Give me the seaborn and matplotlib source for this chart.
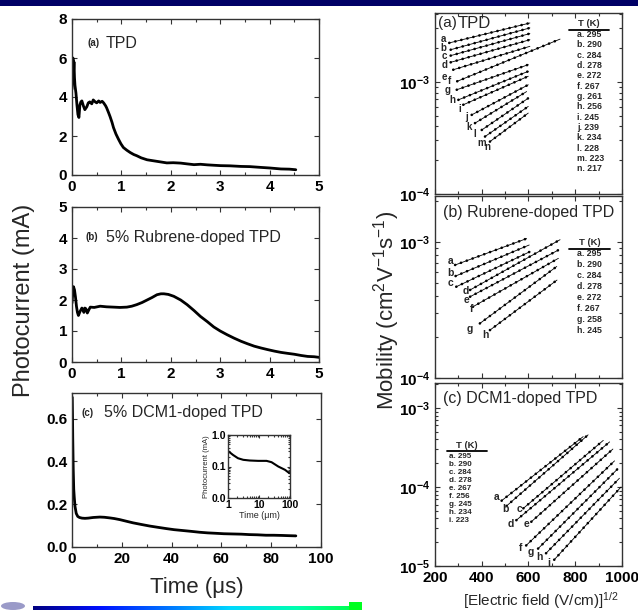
import numpy as np
import pandas as pd
import matplotlib
matplotlib.use('Agg')
import matplotlib.pyplot as plt
import seaborn as sns
from matplotlib.patches import Rectangle, Ellipse
from matplotlib.colors import LinearSegmentedColormap
from matplotlib.ticker import MultipleLocator, FixedLocator, FixedFormatter, FormatStrFormatter

sns.set_style('ticks')
plt.rcParams['font.family'] = ['Liberation Sans', 'DejaVu Sans']
plt.rcParams['mathtext.default'] = 'regular'

# ---------------- data: photocurrent transients ----------------
tpd_t = [0.0, 0.01, 0.02, 0.03, 0.04, 0.05, 0.06, 0.08, 0.10, 0.12, 0.14, 0.16, 0.18, 0.20, 0.23, 0.26,
         0.30, 0.33, 0.36, 0.40, 0.43, 0.47, 0.50, 0.54, 0.57, 0.61, 0.64, 0.68, 0.70, 0.74, 0.77, 0.81,
         0.84, 0.89, 0.94, 0.99, 1.04, 1.11, 1.18, 1.25, 1.31, 1.40, 1.52, 1.62, 1.72, 1.82, 1.92, 2.05,
         2.20, 2.33, 2.47, 2.60, 2.74, 2.87, 3.01, 3.20, 3.42, 3.60, 3.82, 4.00, 4.23, 4.40, 4.53]
tpd_i = [4.4, 5.6, 6.0, 5.2, 5.8, 5.0, 4.6, 4.2, 3.6, 3.1, 2.95, 3.6, 3.75, 3.8, 3.55, 3.35,
         3.5, 3.7, 3.75, 3.65, 3.85, 3.75, 3.7, 3.8, 3.72, 3.78, 3.7, 3.55, 3.45, 3.2, 3.0, 2.7,
         2.43, 2.1, 1.84, 1.6, 1.41, 1.27, 1.15, 1.05, 0.99, 0.88, 0.78, 0.74, 0.7, 0.66, 0.62, 0.63,
         0.61, 0.57, 0.53, 0.55, 0.52, 0.50, 0.48, 0.47, 0.44, 0.43, 0.39, 0.36, 0.31, 0.30, 0.27]

rub_t = [0.0, 0.02, 0.03, 0.05, 0.07, 0.09, 0.11, 0.13, 0.16, 0.20, 0.22, 0.24, 0.26, 0.28, 0.31, 0.34,
         0.37, 0.45, 0.57, 0.70, 0.84, 0.97, 1.11, 1.21, 1.31, 1.42, 1.52, 1.62, 1.72, 1.80, 1.86, 1.95,
         2.06, 2.20, 2.33, 2.47, 2.60, 2.74, 2.87, 3.00, 3.14, 3.28, 3.42, 3.55, 3.69, 3.83, 3.96, 4.10,
         4.23, 4.36, 4.50, 4.64, 4.77, 4.90, 5.0]
rub_i = [1.9, 2.3, 2.43, 2.33, 2.1, 1.8, 1.6, 1.5, 1.62, 1.74, 1.7, 1.6, 1.74, 1.72, 1.58, 1.68,
         1.77, 1.76, 1.8, 1.78, 1.77, 1.76, 1.77, 1.8, 1.85, 1.92, 2.0, 2.08, 2.17, 2.2, 2.2, 2.18,
         2.12, 2.0, 1.85, 1.66, 1.47, 1.3, 1.13, 1.0, 0.88, 0.77, 0.67, 0.59, 0.51, 0.45, 0.4, 0.35,
         0.31, 0.28, 0.25, 0.21, 0.18, 0.17, 0.15]

dcm_t = [0.1, 0.2, 0.3, 0.5, 0.7, 0.9, 1.2, 1.7, 2.3, 3.0, 4.0, 5.2, 6.5, 8.5, 11.2, 13.0, 15.2, 17.0,
         19.2, 22.0, 24.5, 28.0, 31.2, 34.5, 37.9, 41.0, 44.5, 48.0, 51.2, 54.5, 57.9, 61.0, 64.5, 68.0,
         71.2, 74.5, 77.9, 81.0, 84.5, 87.0, 89.9]
dcm_i = [0.70, 0.62, 0.51, 0.36, 0.27, 0.234, 0.19, 0.157, 0.143, 0.138, 0.135, 0.134, 0.135, 0.138,
         0.14, 0.139, 0.136, 0.133, 0.128, 0.12, 0.113, 0.105, 0.098, 0.092, 0.086, 0.081, 0.077, 0.073,
         0.069, 0.066, 0.064, 0.062, 0.061, 0.06, 0.058, 0.057, 0.055, 0.055, 0.054, 0.053, 0.052]

ins_t = [1.05, 1.45, 2.1, 3.1, 5.0, 9.4, 17.5, 25.4, 41.8, 68.9, 95]
ins_i = [0.30, 0.233, 0.183, 0.163, 0.155, 0.151, 0.151, 0.137, 0.10, 0.0785, 0.0616]

# ---------------- data: Poole-Frenkel mobility lines ----------------
pa_letters = list('abcdefghijklmn')
pa_temps = [295, 290, 284, 278, 272, 267, 261, 256, 245, 239, 234, 228, 223, 217]
pa_f0 = [261, 267, 267, 267, 278, 295, 293, 300, 321, 357, 371, 400, 414, 435]
pa_f1 = [606, 606, 606, 606, 606, 735, 599, 599, 599, 599, 592, 599, 599, 599]
pa_mu0 = [2.22e-3, 1.93e-3, 1.71e-3, 1.49e-3, 1.28e-3, 1.01e-3, 8.49e-4, 6.90e-4, 6.24e-4, 5.07e-4,
          4.28e-4, 3.72e-4, 3.25e-4, 2.93e-4]
pa_mu1 = [3.34e-3, 3.02e-3, 2.69e-3, 2.37e-3, 2.07e-3, 2.40e-3, 1.42e-3, 1.24e-3, 1.12e-3, 9.40e-4,
          8.18e-4, 7.14e-4, 6.03e-4, 5.26e-4]
pa_lab_f = [236, 236, 239, 239, 239, 264, 254, 276, 308, 336, 345, 369, 398, 426]
pa_lab_mu = [2.42e-3, 1.98e-3, 1.68e-3, 1.42e-3, 1.11e-3, 1.02e-3, 8.49e-4, 6.90e-4, 5.70e-4,
             4.90e-4, 3.94e-4, 3.45e-4, 2.87e-4, 2.60e-4]

pb_letters = list('abcdefgh')
pb_temps = [295, 290, 284, 278, 272, 267, 258, 245]
pb_f0 = [286, 288, 291, 350, 350, 362, 392, 435]
pb_f1 = [592, 603, 606, 735, 728, 728, 721, 722]
pb_mu0 = [6.78e-4, 5.62e-4, 4.69e-4, 4.44e-4, 3.96e-4, 3.34e-4, 2.52e-4, 2.25e-4]
pb_mu1 = [1.06e-3, 9.51e-4, 8.49e-4, 1.04e-3, 8.73e-4, 7.59e-4, 6.61e-4, 5.25e-4]
pb_lab_f = [267, 267, 267, 333, 333, 357, 350, 414]
pb_lab_mu = [7.29e-4, 5.94e-4, 4.97e-4, 4.37e-4, 3.75e-4, 3.21e-4, 2.28e-4, 2.07e-4]

pc_letters = list('abcdefghi')
pc_temps = [295, 290, 284, 278, 267, 256, 245, 234, 223]
pc_f0 = [485, 506, 578, 548, 612, 590, 641, 675, 710]
pc_f1 = [834, 855, 920, 947, 961, 968, 982, 989, 996]
pc_mu0 = [6.71e-5, 5.75e-5, 5.37e-5, 3.80e-5, 3.63e-5, 1.82e-5, 1.66e-5, 1.45e-5, 1.20e-5]
pc_mu1 = [4.34e-4, 4.57e-4, 3.89e-4, 3.72e-4, 3.02e-4, 2.14e-4, 1.70e-4, 1.29e-4, 1.00e-4]
pc_lab_f = [462, 500, 560, 524, 590, 568, 612, 648, 688]
pc_lab_mu = [7.5e-5, 5.2e-5, 5.2e-5, 3.4e-5, 3.4e-5, 1.7e-5, 1.5e-5, 1.3e-5, 1.1e-5]

# ---------------- figure ----------------
W, H = 638, 610
fig = plt.figure(figsize=(W / 100, H / 100), dpi=100)
fig.patch.set_facecolor('white')


def fax(l, t, r, b):
    return fig.add_axes([l / W, 1 - b / H, (r - l) / W, (b - t) / H])


def ftext(x, y, s, **kw):
    fig.text(x / W, 1 - y / H, s, **kw)


def style_axes(ax, size=11, color='#333333'):
    for sp in ax.spines.values():
        sp.set_color(color)
        sp.set_linewidth(1.0)
    ax.tick_params(which='both', direction='in', top=True, right=True, width=0.8, colors='#333333',
                   labelcolor='black', labelsize=size)
    ax.tick_params(which='major', length=3.5)
    ax.tick_params(which='minor', length=2)
    for lab in ax.get_xticklabels() + ax.get_yticklabels():
        lab.set_fontweight('bold')
    ax.set_xlabel('')
    ax.set_ylabel('')


# ---- left panels ----
axa = fax(72, 19, 319, 175)
sns.lineplot(x=tpd_t, y=tpd_i, ax=axa, color='black', lw=2.0, estimator=None, sort=False)
axa.set_xlim(0, 5)
axa.set_ylim(0, 8)
axa.xaxis.set_major_locator(MultipleLocator(1))
axa.xaxis.set_minor_locator(MultipleLocator(0.5))
axa.yaxis.set_major_locator(MultipleLocator(2))
style_axes(axa)
ftext(87, 43, '(a)', fontsize=7, fontweight='bold', va='center')
ftext(106, 43, 'TPD', fontsize=11.5, va='center')

axb = fax(72, 207, 319, 362)
sns.lineplot(x=rub_t, y=rub_i, ax=axb, color='black', lw=2.0, estimator=None, sort=False)
axb.set_xlim(0, 5)
axb.set_ylim(0, 5)
axb.xaxis.set_major_locator(MultipleLocator(1))
axb.xaxis.set_minor_locator(MultipleLocator(0.5))
axb.yaxis.set_major_locator(MultipleLocator(1))
style_axes(axb)
ftext(85, 237, '(b)', fontsize=7, fontweight='bold', va='center')
ftext(106, 237, '5% Rubrene-doped TPD', fontsize=11.5, va='center')

axc = fax(72, 393, 321, 547)
sns.lineplot(x=dcm_t, y=dcm_i, ax=axc, color='black', lw=2.0, estimator=None, sort=False)
axc.set_xlim(0, 100)
axc.set_ylim(0, 0.72)
axc.xaxis.set_major_locator(MultipleLocator(20))
axc.xaxis.set_minor_locator(MultipleLocator(10))
axc.yaxis.set_major_locator(MultipleLocator(0.2))
axc.yaxis.set_major_formatter(FormatStrFormatter('%.1f'))
style_axes(axc)
ftext(82, 413, '(c)', fontsize=7, fontweight='bold', va='center')
ftext(104, 413, '5% DCM1-doped TPD', fontsize=11.5, va='center')

axi = fax(228, 435, 290, 498)
axi.set_xscale('log')
axi.set_yscale('log')
sns.lineplot(x=ins_t, y=ins_i, ax=axi, color='black', lw=1.5, estimator=None, sort=False)
axi.set_xlim(1, 100)
axi.set_ylim(0.01, 1)
axi.xaxis.set_major_locator(FixedLocator([1, 10, 100]))
axi.xaxis.set_major_formatter(FixedFormatter(['1', '10', '100']))
axi.yaxis.set_major_locator(FixedLocator([0.01, 0.1, 1]))
axi.yaxis.set_major_formatter(FixedFormatter(['0.0', '0.1', '1.0']))
style_axes(axi, size=7.5)
axi.tick_params(which='major', length=2.5, pad=1.5)
axi.tick_params(which='minor', length=1.3)
axi.set_ylabel('Photocurrent (mA)', fontsize=5.5, labelpad=1)
axi.set_xlabel('Time (\u03bcm)', fontsize=6.5, labelpad=1)

ftext(24, 300, 'Photocurrent (mA)', fontsize=17, rotation=90, ha='center', va='center')
ftext(197, 588, 'Time (\u03bcs)', fontsize=16, ha='center', va='center')

# ---- right panels ----


def mobility_panel(ax, letters, f0, f1, mu0, mu1, lab_f, lab_mu, ylim, lab_fs=7.5):
    rows = []
    for s, a, b, m0, m1 in zip(letters, f0, f1, mu0, mu1):
        rows.append({'field': a, 'mobility': m0, 'series': s})
        rows.append({'field': b, 'mobility': m1, 'series': s})
    df = pd.DataFrame(rows)
    ax.set_yscale('log')
    sns.lineplot(data=df, x='field', y='mobility', units='series', estimator=None, sort=False,
                 color='black', lw=0.6, ax=ax, legend=False)
    sns.lineplot(data=df, x='field', y='mobility', units='series', estimator=None, sort=False,
                 color='black', lw=1.9, ax=ax, legend=False, linestyle=(0, (0.05, 2.3)),
                 dash_capstyle='round')
    for s, x, y in zip(letters, lab_f, lab_mu):
        ax.text(x, y, s, fontsize=lab_fs, fontweight='bold', ha='center', va='center')
    ax.set_xlim(200, 1000)
    ax.set_ylim(*ylim)
    ax.xaxis.set_major_locator(MultipleLocator(200))
    ax.xaxis.set_minor_locator(MultipleLocator(100))
    style_axes(ax, size=11)


def temp_table(ax_x, y0, dy, letters, temps, head_y, line_y, line_x0, line_x1, fs=6.3):
    ftext((line_x0 + line_x1) / 2, head_y, 'T (K)', fontsize=6.8, fontweight='bold', ha='center',
          va='center')
    fig.add_artist(plt.Line2D([line_x0 / W, line_x1 / W], [1 - line_y / H, 1 - line_y / H],
                              color='black', lw=1.3))
    for k, (s, T) in enumerate(zip(letters, temps)):
        ftext(ax_x, y0 + k * dy, f'{s}. {T}', fontsize=fs, fontweight='bold', ha='left',
              va='center')


ra = fax(435, 13, 622, 194)
mobility_panel(ra, pa_letters, pa_f0, pa_f1, pa_mu0, pa_mu1, pa_lab_f, pa_lab_mu, (1e-4, 4.1e-3),
               lab_fs=7)
ra.tick_params(labelbottom=False)
ftext(438, 23, '(a)', fontsize=11, ha='left', va='center')
ftext(458, 23, 'TPD', fontsize=12, ha='left', va='center')
temp_table(577, 34.5, 10.33, pa_letters, pa_temps, 24, 29.5, 569, 609)

rb = fax(435, 196, 622, 378)
mobility_panel(rb, pb_letters, pb_f0, pb_f1, pb_mu0, pb_mu1, pb_lab_f, pb_lab_mu, (1e-4, 2.18e-3))
rb.tick_params(labelbottom=False)
ftext(443, 212, '(b) Rubrene-doped TPD', fontsize=11.5, ha='left', va='center')
temp_table(577, 254, 10.9, pb_letters, pb_temps, 243, 248.5, 569, 610)

rc = fax(435, 383, 622, 566)
mobility_panel(rc, pc_letters, pc_f0, pc_f1, pc_mu0, pc_mu1, pc_lab_f, pc_lab_mu, (1e-5, 2.07e-3))
ftext(443, 398, '(c) DCM1-doped TPD', fontsize=11.5, ha='left', va='center')
temp_table(449, 456, 8.0, pc_letters, pc_temps, 445, 450.5, 447, 487, fs=5.8)

ftext(387, 310, 'Mobility (cm$^2$V$^{-1}$s$^{-1}$)', fontsize=16, rotation=90, ha='center',
      va='center')
ftext(541, 601, '[Electric field (V/cm)]$^{1/2}$', fontsize=11, ha='center', va='center')

# ---- slide decorations ----
fig.add_artist(Rectangle((0, 1 - 6 / H), 1, 6 / H, transform=fig.transFigure, color='#000066',
                         lw=0))
gax = fig.add_axes([33 / W, 0, (362 - 33) / W, 4 / H])
cmap = LinearSegmentedColormap.from_list('bar', ['#000080', '#0010ff', '#0070ff', '#00d8ff',
                                                 '#00ffb0', '#00ff40'])
gax.imshow(np.linspace(0, 1, 256)[None, :], aspect='auto', cmap=cmap)
gax.axis('off')
fig.add_artist(Rectangle((349 / W, 0), 13 / W, 8 / H, transform=fig.transFigure, color='#00ff20',
                         lw=0))
fig.add_artist(Ellipse((13 / W, 4 / H), 24 / W, 8 / H, transform=fig.transFigure,
                       color='#9a9ac8', lw=0))

fig.savefig('out.png', dpi=100)
